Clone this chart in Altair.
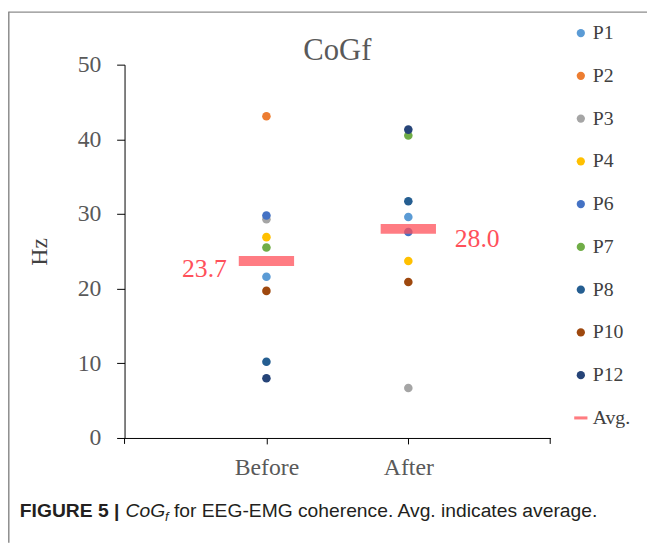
import altair as alt
import pandas as pd

participants = ["P1", "P2", "P3", "P4", "P6", "P7", "P8", "P10", "P12"]
before_hz = [21.6, 43.1, 29.3, 26.9, 29.8, 25.5, 10.2, 19.7, 8.0]
after_hz = [29.6, None, 6.7, 23.7, 27.6, 40.5, 31.7, 20.9, 41.3]
colors = ["#5B9BD5", "#ED7D31", "#A5A5A5", "#FFC000", "#4472C4",
          "#70AD47", "#255E91", "#9E480E", "#264478"]
phases = ["Before", "After"]
avg_values = [23.7, 28.0]
avg_label = "Avg."
avg_color = "#FF7C80"
title_text = "CoGf"

rows = []
for p, b, a in zip(participants, before_hz, after_hz):
    if b is not None:
        rows.append({"series": p, "phase": "Before", "value": b})
    if a is not None:
        rows.append({"series": p, "phase": "After", "value": a})
points_df = pd.DataFrame(rows)
order = {p: i for i, p in enumerate(participants)}
points_df["o"] = points_df["series"].map(order)
points_df = points_df.sort_values(["o", "phase"]).reset_index(drop=True)

avg_df = pd.DataFrame({"phase": phases, "value": avg_values})
one = pd.DataFrame({"a": [0]})

SERIF = "Liberation Serif"
SANS = "Liberation Sans"

domain = participants + [avg_label]
color_scale = alt.Scale(domain=domain, range=colors + [avg_color])
shape_scale = alt.Scale(domain=domain,
                        range=["circle"] * len(participants) + ["M-1.6,-0.37H1.6V0.37H-1.6Z"])

x_enc = alt.X("phase:N", sort=phases,
              scale=alt.Scale(type="point", padding=1),
              axis=alt.Axis(title=None, labelAngle=0, labelFont=SERIF, labelFontSize=24,
                            labelColor="#595959", tickSize=6, tickColor="#000000",
                            domainColor="#000000", labelPadding=12, grid=False))
y_enc = alt.Y("value:Q",
              scale=alt.Scale(domain=[0, 50], nice=False),
              axis=alt.Axis(values=[0, 10, 20, 30, 40, 50], title="Hz", titleFont=SERIF,
                            titleFontSize=24, titleFontWeight="normal", titleColor="#404040",
                            titleX=-86, titleY=189, titleBaseline="middle",
                            labelFont=SERIF, labelFontSize=24, labelColor="#595959",
                            tickSize=8, tickColor="#000000", domainColor="#000000",
                            labelPadding=16, grid=False))

legend = alt.Legend(orient="none", legendX=452, legendY=-42, labelFont=SERIF,
                    labelFontSize=20, labelColor="#404040", symbolSize=70,
                    symbolStrokeWidth=0, labelOffset=2, rowPadding=23.3, padding=0)

pts = alt.Chart(points_df).mark_point(filled=True, size=75, opacity=1).encode(
    x=x_enc, y=y_enc,
    color=alt.Color("series:N", scale=color_scale, title=None, legend=legend),
    shape=alt.Shape("series:N", scale=shape_scale, title=None, legend=legend),
    order=alt.Order("o:Q"),
)

bars = alt.Chart(avg_df).mark_tick(orient="horizontal", size=56, thickness=10,
                                   color="#FF505A", opacity=0.75).encode(
    x=alt.X("phase:N", sort=phases), y=alt.Y("value:Q"))

labels_l = alt.Chart(avg_df[avg_df.phase == "Before"]).mark_text(
    align="right", baseline="middle", dx=-40, dy=8, font=SERIF, fontSize=26,
    color="#FF505A").encode(
    x=alt.X("phase:N", sort=phases), y=alt.Y("value:Q"),
    text=alt.Text("value:Q", format=".1f"))
labels_r = alt.Chart(avg_df[avg_df.phase == "After"]).mark_text(
    align="left", baseline="middle", dx=47, dy=10, font=SERIF, fontSize=26,
    color="#FF505A").encode(
    x=alt.X("phase:N", sort=phases), y=alt.Y("value:Q"),
    text=alt.Text("value:Q", format=".1f"))

# chart title as annotation text
title = alt.Chart(one).mark_text(align="center", baseline="alphabetic", font=SERIF,
                                 fontSize=31, color="#595959").encode(
    x=alt.value(215.5), y=alt.value(-5), text=alt.value(title_text))

# decorative x-axis end ticks
end_ticks = alt.Chart(one).mark_rule(color="#000000", strokeWidth=1).encode(
    x=alt.value(0), y=alt.value(378), y2=alt.value(384))
end_ticks2 = alt.Chart(one).mark_rule(color="#000000", strokeWidth=1).encode(
    x=alt.value(431), y=alt.value(378), y2=alt.value(384))

# figure frame
frame_l = alt.Chart(one).mark_rule(color="#8C8C8C", strokeWidth=1.5).encode(
    x=alt.value(-117.2), y=alt.value(-53.5), y2=alt.value(484))
frame_t = alt.Chart(one).mark_rule(color="#8C8C8C", strokeWidth=1.5).encode(
    x=alt.value(-117.5), x2=alt.value(529), y=alt.value(-53.2))

# caption
CAP = 19.5
cap1 = alt.Chart(one).mark_text(align="left", baseline="alphabetic", font=SANS,
                                fontSize=CAP, fontWeight="bold", color="#231F20").encode(
    x=alt.value(-106), y=alt.value(458), text=alt.value("FIGURE 5 |"))
cap2 = alt.Chart(one).mark_text(align="left", baseline="alphabetic", font=SANS,
                                fontSize=CAP, fontStyle="italic", color="#231F20").encode(
    x=alt.value(1), y=alt.value(458), text=alt.value("CoG"))
cap3 = alt.Chart(one).mark_text(align="left", baseline="alphabetic", font=SANS,
                                fontSize=13, fontStyle="italic", color="#231F20").encode(
    x=alt.value(41), y=alt.value(462), text=alt.value("f"))
cap4 = alt.Chart(one).mark_text(align="left", baseline="alphabetic", font=SANS,
                                fontSize=CAP, color="#231F20").encode(
    x=alt.value(50), y=alt.value(458),
    text=alt.value("for EEG-EMG coherence. Avg. indicates average."))

chart = alt.layer(
    frame_l, frame_t, end_ticks, end_ticks2, pts, bars, labels_l, labels_r,
    title, cap1, cap2, cap3, cap4,
).properties(
    width=431, height=378,
    autosize=alt.AutoSizeParams(type="none"),
    padding={"left": 118, "top": 54, "right": 98, "bottom": 106},
    background="white",
).configure_view(stroke=None)

chart.save("out.html", embed_options={"renderer": "svg", "actions": False})
